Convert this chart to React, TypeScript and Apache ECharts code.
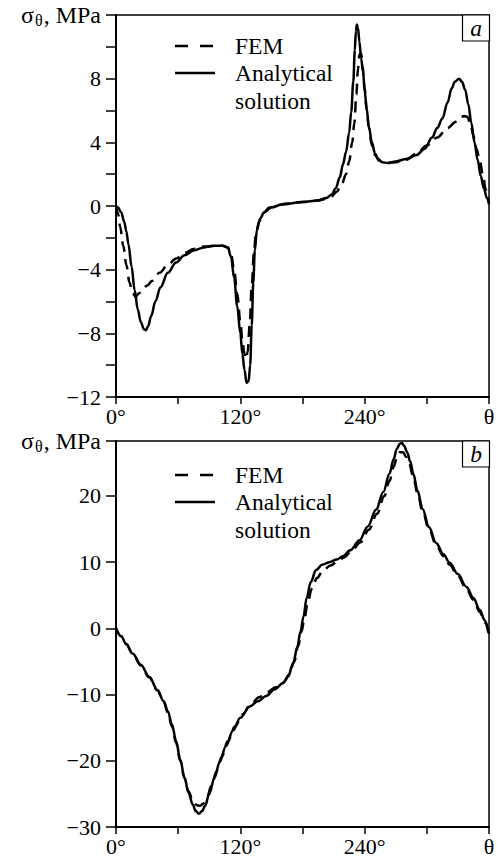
import React, { useEffect, useRef } from 'react';
import * as echarts from 'echarts';

// ---------- data (θ in degrees, σθ in MPa) ----------
const xLabelsMap: Record<number, string> = { 0: '0°', 120: '120°', 240: '240°', 360: 'θ' };
const legendNames = ['FEM', 'Analytical', 'solution'];
const panelTags = ['a', 'b'];

const analyticA: number[][] = [
  [0, 0], [2, -0.1], [5, -0.4], [8, -1.0], [10, -1.6], [12, -2.4], [15, -3.8], [18, -5.3], [21, -6.5],
  [24, -7.3], [27, -7.75], [29, -7.8], [31, -7.55], [34, -6.9], [38, -6.0], [43, -5.1], [50, -4.2],
  [58, -3.55], [66, -3.1], [75, -2.8], [85, -2.6], [95, -2.5], [103, -2.5], [108, -2.6], [111, -3.2],
  [114, -4.5], [117, -6.3], [120, -8.0], [122, -9.3], [124, -10.3], [126, -11.1], [128, -11.0],
  [129.5, -10.0], [131, -7.5], [132.5, -4.8], [134, -2.8], [136, -1.5], [139, -0.8], [143, -0.4],
  [150, -0.1], [160, 0.1], [180, 0.25], [195, 0.35], [203, 0.5], [208, 0.7], [212, 1.1], [216, 1.8],
  [219, 2.6], [222, 3.4], [225, 4.6], [227, 5.9], [229, 7.8], [230.5, 9.8], [231.5, 11.0], [232.5, 11.4],
  [233.5, 11.2], [235, 10.3], [236.5, 9.3], [238.5, 8.4], [240, 7.2], [242, 6.1], [244, 5.0], [247, 4.0],
  [250, 3.3], [253, 2.95], [257, 2.75], [262, 2.7], [270, 2.8], [280, 2.95], [290, 3.2], [298, 3.6],
  [305, 4.3], [310, 4.9], [315, 5.5], [320, 6.5], [324, 7.4], [327, 7.8], [331, 8.0], [334, 7.8],
  [337, 7.3], [340, 6.4], [343, 5.2], [346, 4.0], [349, 2.9], [352, 1.9], [355, 1.1], [358, 0.5], [360, 0.2],
];

const femA: number[][] = [
  [0, 0], [2, -0.5], [4, -1.3], [7, -2.5], [10, -3.7], [13, -4.8], [16, -5.5], [19, -5.7], [22, -5.5],
  [26, -5.2], [30, -5.0], [35, -4.7], [42, -4.2], [50, -3.7], [58, -3.3], [66, -2.95], [75, -2.7],
  [85, -2.55], [95, -2.5], [103, -2.5], [108, -2.6], [111, -3.0], [114, -4.0], [117, -5.5], [120, -7.2],
  [122, -8.5], [124, -9.3], [125.5, -9.6], [127, -9.2], [129, -7.5], [131, -5.0], [133, -3.0], [135, -1.8],
  [138, -1.0], [142, -0.45], [148, -0.1], [155, 0.05], [165, 0.15], [180, 0.25], [195, 0.35], [203, 0.45],
  [208, 0.6], [213, 0.9], [218, 1.4], [222, 2.0], [225, 2.8], [228, 4.0], [230, 5.2], [232, 7.0],
  [233.5, 8.6], [235, 9.5], [236.5, 9.6], [238, 8.8], [240, 7.4], [242, 6.0], [244, 4.9], [247, 3.8],
  [250, 3.2], [254, 2.85], [260, 2.7], [270, 2.75], [280, 2.9], [290, 3.3], [300, 3.8], [310, 4.3],
  [320, 4.9], [328, 5.3], [333, 5.6], [336, 5.65], [339, 5.6], [342, 5.2], [345, 4.4], [348, 3.6],
  [351, 2.9], [354, 2.0], [357, 1.0], [360, 0.1],
];

const analyticB: number[][] = [
  [0, 0], [5, -1.2], [10, -2.4], [16, -3.8], [24, -5.5], [32, -7.3], [40, -9.3], [46, -11.0], [50, -12.5],
  [54, -14.5], [58, -17.0], [62, -19.8], [66, -22.5], [70, -24.8], [74, -26.6], [77, -27.6], [80, -28.0],
  [83, -27.6], [86, -26.8], [90, -25.0], [95, -22.6], [100, -20.2], [106, -17.8], [113, -15.4],
  [120, -13.5], [129, -11.8], [137, -11.0], [145, -10.2], [153, -9.2], [161, -8.3], [166, -7.3],
  [171, -5.3], [175, -2.8], [178, -0.5], [181, 1.8], [184, 4.6], [188, 7.0], [193, 8.8], [199, 9.6],
  [206, 10.0], [213, 10.4], [219, 10.9], [226, 11.8], [235, 13.3], [243, 15.4], [251, 17.9], [258, 20.6],
  [264, 23.4], [268, 25.6], [271, 27.1], [274, 27.9], [276, 28.0], [278, 27.6], [281, 26.6], [284, 25.2],
  [287, 23.3], [291, 20.8], [296, 18.0], [302, 15.3], [309, 12.9], [316, 11.2], [322, 9.9], [330, 8.2],
  [338, 6.3], [345, 4.6], [351, 2.8], [356, 1.2], [360, -0.8],
];

const femB: number[][] = [
  [0, 0], [5, -1.2], [10, -2.4], [16, -3.8], [24, -5.6], [32, -7.4], [40, -9.4], [46, -11.1], [50, -12.7],
  [54, -14.8], [58, -17.3], [62, -20.0], [66, -22.6], [70, -24.6], [74, -26.0], [78, -26.7], [81, -26.8],
  [84, -26.5], [88, -25.4], [92, -23.8], [97, -21.6], [102, -19.4], [108, -17.0], [115, -14.8],
  [122, -13.0], [130, -11.5], [138, -10.4], [146, -9.6], [154, -8.9], [162, -8.1], [167, -7.0],
  [172, -5.0], [176, -2.6], [179, -0.5], [182, 1.6], [185, 3.9], [189, 6.0], [194, 7.6], [200, 8.8],
  [207, 9.5], [214, 10.1], [220, 10.7], [227, 11.6], [236, 13.0], [244, 14.9], [252, 17.3], [259, 20.0],
  [264, 22.3], [268, 24.4], [271, 25.8], [274, 26.6], [277, 26.6], [280, 25.9], [283, 24.9], [287, 22.8],
  [291, 20.4], [296, 17.6], [302, 15.0], [309, 12.6], [316, 10.9], [322, 9.6], [330, 7.9], [338, 6.0],
  [345, 4.3], [351, 2.5], [356, 0.9], [360, -1.0],
];

const yRangeA = { min: -12, max: 12, interval: 2, labelStep: 4 };
const yRangeB = { min: -30, max: 28.3, interval: 10, labelStep: 10 };

// ---------- styling ----------
const FONT = 'Liberation Serif, Times New Roman, serif';
const FS = 22;
const LFS = 23.5;

const nameRich = {
  n: { fontFamily: FONT, fontSize: 24, color: '#000' },
  s: { fontFamily: FONT, fontSize: 16, color: '#000', verticalAlign: 'bottom', padding: [11, 1, 0, 1] },
};

function fmtNum(v: number) {
  const r = Math.round(v);
  return r < 0 ? '\u2212' + Math.abs(r) : String(r);
}

function makeX(gridIndex: number) {
  return {
    type: 'value', gridIndex, min: 0, max: 360, interval: 60,
    axisLine: { show: true, onZero: false, lineStyle: { color: '#000', width: 2 } },
    axisTick: { show: true, inside: false, length: 7, lineStyle: { color: '#000', width: 1.5 } },
    axisLabel: {
      show: true, margin: 8, color: '#000', fontFamily: FONT, fontSize: FS,
      formatter: (v: number) => xLabelsMap[Math.round(v)] ?? '',
    },
    splitLine: { show: false },
  };
}

function makeY(gridIndex: number, r: { min: number; max: number; interval: number; labelStep: number }) {
  return {
    type: 'value', gridIndex, min: r.min, max: r.max, interval: r.interval,
    axisLine: { show: true, onZero: false, lineStyle: { color: '#000', width: 2 } },
    axisTick: { show: true, inside: false, length: 10, lineStyle: { color: '#000', width: 1.5 } },
    axisLabel: {
      show: true, margin: 15, color: '#000', fontFamily: FONT, fontSize: FS,
      rich: nameRich,
      formatter: (v: number) => {
        if (Math.abs(v - r.max) < 1e-6) return '{n|σ}{s|θ}{n|, MPa}';
        const q = v / r.labelStep;
        if (Math.abs(q - Math.round(q)) < 1e-6) return fmtNum(v);
        return '';
      },
    },
    splitLine: { show: false },
  };
}

function legendGraphics(top: number) {
  const x0 = 175, x1 = 215, tx = 235;
  const f = `${LFS}px ${FONT}`;
  return [
    { type: 'line', shape: { x1: x0, y1: top, x2: x1, y2: top }, style: { stroke: '#000', lineWidth: 2.5, lineDash: [13, 12] } },
    { type: 'line', shape: { x1: x0, y1: top + 27, x2: x1, y2: top + 27 }, style: { stroke: '#000', lineWidth: 2.5 } },
    { type: 'text', x: tx, y: top, style: { text: legendNames[0], font: f, fill: '#000', verticalAlign: 'middle' } },
    { type: 'text', x: tx, y: top + 27, style: { text: legendNames[1], font: f, fill: '#000', verticalAlign: 'middle' } },
    { type: 'text', x: tx, y: top + 55, style: { text: legendNames[2], font: f, fill: '#000', verticalAlign: 'middle' } },
  ];
}

function tagGraphics(top: number, tag: string) {
  return [
    { type: 'rect', shape: { x: 462.5, y: top, width: 27, height: 26 }, style: { fill: '#fff', stroke: '#000', lineWidth: 1.2 } },
    { type: 'text', x: 476, y: top + 13, style: { text: tag, font: `italic ${LFS}px ${FONT}`, fill: '#000', align: 'center', verticalAlign: 'middle' } },
  ];
}

function lineSeries(data: number[][], idx: number, dashed: boolean) {
  return {
    type: 'line', xAxisIndex: idx, yAxisIndex: idx, data,
    showSymbol: false, symbol: 'none', smooth: 0.35, smoothMonotone: 'x',
    lineStyle: { color: '#000', width: 2.5, type: dashed ? [11, 7] : 'solid' },
    z: dashed ? 3 : 2,
  };
}

export default function App() {
  const ref = useRef<HTMLDivElement>(null);
  useEffect(() => {
    if (!ref.current) return;
    const chart = echarts.init(ref.current, null, { renderer: 'svg' });
    const option: any = {
      animation: false,
      backgroundColor: '#fff',
      textStyle: { fontFamily: FONT },
      grid: [
        { left: 116, top: 15, right: 12, bottom: 460, show: true, borderColor: '#000', borderWidth: 1.5, containLabel: false },
        { left: 116, top: 441, right: 12, bottom: 30, show: true, borderColor: '#000', borderWidth: 1.5, containLabel: false },
      ],
      xAxis: [makeX(0), makeX(1)],
      yAxis: [makeY(0, yRangeA), makeY(1, yRangeB)],
      series: [
        lineSeries(analyticA, 0, false),
        lineSeries(femA, 0, true),
        lineSeries(analyticB, 1, false),
        lineSeries(femB, 1, true),
      ],
      graphic: [
        ...legendGraphics(46),
        ...legendGraphics(475),
        ...tagGraphics(15, panelTags[0]),
        ...tagGraphics(441, panelTags[1]),
      ],
    };
    chart.setOption(option);
    return () => chart.dispose();
  }, []);
  return (
    <div
      ref={ref}
      style={{ position: 'fixed', left: 0, top: 0, width: 501, height: 857, background: '#fff' }}
    />
  );
}
